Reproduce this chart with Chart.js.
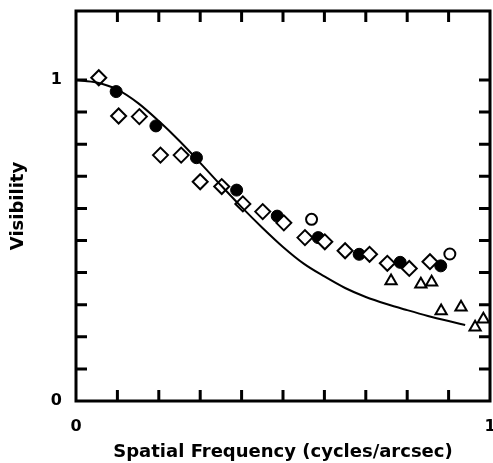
<!DOCTYPE html>
<html>
<head>
<meta charset="utf-8">
<script src="https://cdn.jsdelivr.net/npm/chart.js@4"></script>
<style>
  html, body { margin: 0; padding: 0; background: #fff; }
  #wrap { width: 493px; height: 463px; }
</style>
</head>
<body>
<div id="wrap"><canvas id="c" width="493" height="463"></canvas></div>
<script>
// ---- data ----
const diamondX = [0.055, 0.103, 0.153, 0.204, 0.254, 0.300, 0.352, 0.403, 0.451, 0.502, 0.553, 0.601, 0.650, 0.709, 0.752, 0.805, 0.855];
const diamondY = [1.007, 0.888, 0.886, 0.766, 0.766, 0.683, 0.668, 0.614, 0.590, 0.555, 0.509, 0.496, 0.468, 0.457, 0.429, 0.413, 0.434];

const filledX = [0.097, 0.193, 0.291, 0.388, 0.486, 0.585, 0.684, 0.783, 0.881];
const filledY = [0.964, 0.857, 0.758, 0.657, 0.576, 0.509, 0.457, 0.432, 0.421];

const openCircleX = [0.569, 0.903];
const openCircleY = [0.566, 0.458];

const triangleX = [0.761, 0.833, 0.859, 0.882, 0.930, 0.964, 0.984];
const triangleY = [0.374, 0.364, 0.370, 0.280, 0.292, 0.230, 0.255];

const curveX = [0, 0.05, 0.10, 0.15, 0.20, 0.25, 0.30, 0.35, 0.40, 0.45, 0.50, 0.55, 0.60, 0.65, 0.70, 0.75, 0.80, 0.85, 0.90, 0.94];
const curveY = [1.000, 0.992, 0.970, 0.928, 0.872, 0.810, 0.742, 0.672, 0.604, 0.540, 0.480, 0.428, 0.388, 0.352, 0.324, 0.302, 0.283, 0.265, 0.249, 0.237];

const xTickValues = [0, 0.1, 0.2, 0.3, 0.4, 0.5, 0.6, 0.7, 0.8, 0.9, 1.0];
const yTickValues = [0, 0.1, 0.2, 0.3, 0.4, 0.5, 0.6, 0.7, 0.8, 0.9, 1.0];
const tickLabels = { 0: '0', 1: '1' };

const xTitle = 'Spatial Frequency (cycles/arcsec)';
const yTitle = 'Visibility';

// ---- helpers ----
const pts = (xs, ys) => xs.map((x, i) => ({ x: x, y: ys[i] }));
const FONT = '"DejaVu Sans", sans-serif';
const noPad = s => { s.paddingLeft = 0; s.paddingRight = 0; s.paddingTop = 0; s.paddingBottom = 0; };

// plugin: frame + inward tick marks on all four sides
const framePlugin = {
  id: 'frame',
  afterDatasetsDraw(chart) {
    const { ctx, chartArea: a, scales } = chart;
    const xs = scales.x, ys = scales.y;
    const L = 11;
    ctx.save();
    ctx.strokeStyle = '#000';
    ctx.lineWidth = 3;
    ctx.lineCap = 'butt';
    ctx.beginPath();
    xTickValues.forEach(v => {
      if (v <= 0 || v >= 1) return;
      const px = xs.getPixelForValue(v);
      ctx.moveTo(px, a.bottom); ctx.lineTo(px, a.bottom - L);
      ctx.moveTo(px, a.top); ctx.lineTo(px, a.top + L);
    });
    yTickValues.forEach(v => {
      if (v <= 0) return;
      const py = ys.getPixelForValue(v);
      ctx.moveTo(a.left, py); ctx.lineTo(a.left + L, py);
      ctx.moveTo(a.right, py); ctx.lineTo(a.right - L, py);
    });
    ctx.stroke();
    ctx.strokeRect(a.left, a.top, a.right - a.left, a.bottom - a.top);
    ctx.restore();
  }
};

new Chart(document.getElementById('c'), {
  type: 'scatter',
  data: {
    datasets: [
      {
        label: 'model',
        data: pts(curveX, curveY),
        showLine: true,
        borderColor: '#000',
        borderWidth: 2,
        pointRadius: 0,
        cubicInterpolationMode: 'monotone',
        fill: false
      },
      {
        label: 'diamonds',
        data: pts(diamondX, diamondY),
        pointStyle: 'rectRot',
        pointRadius: 7.5,
        borderWidth: 2,
        borderColor: '#000',
        backgroundColor: '#fff'
      },
      {
        label: 'filled',
        data: pts(filledX, filledY),
        pointStyle: 'circle',
        pointRadius: 6,
        borderWidth: 1,
        borderColor: '#000',
        backgroundColor: '#000'
      },
      {
        label: 'open circles',
        data: pts(openCircleX, openCircleY),
        pointStyle: 'circle',
        pointRadius: 5.5,
        borderWidth: 2,
        borderColor: '#000',
        backgroundColor: '#fff'
      },
      {
        label: 'triangles',
        data: pts(triangleX, triangleY),
        pointStyle: 'triangle',
        pointRadius: 6.5,
        borderWidth: 2,
        borderColor: '#000',
        backgroundColor: '#fff'
      }
    ]
  },
  options: {
    responsive: false,
    animation: false,
    devicePixelRatio: 1,
    layout: { autoPadding: false, padding: { top: 11, right: 3, left: 0, bottom: 0 } },
    plugins: {
      legend: { display: false },
      tooltip: { enabled: false }
    },
    scales: {
      x: {
        type: 'linear',
        min: 0,
        max: 1,
        afterBuildTicks: s => { s.ticks = xTickValues.map(v => ({ value: v })); },
        afterFit: s => { s.height = 62; noPad(s); },
        grid: { display: false, drawTicks: false },
        border: { display: false },
        ticks: {
          autoSkip: false,
          maxRotation: 0,
          padding: 16,
          color: '#000',
          font: { family: FONT, size: 16, weight: 'bold' },
          callback: v => (tickLabels[v] !== undefined ? tickLabels[v] : '')
        },
        title: {
          display: true,
          text: xTitle,
          color: '#000',
          font: { family: FONT, size: 18, weight: 'bold' },
          padding: { top: 0, bottom: 0 }
        }
      },
      y: {
        type: 'linear',
        min: 0,
        max: 1.215,
        afterBuildTicks: s => { s.ticks = yTickValues.map(v => ({ value: v })); },
        afterFit: s => { s.width = 76; noPad(s); },
        grid: { display: false, drawTicks: false },
        border: { display: false },
        ticks: {
          autoSkip: false,
          padding: 14,
          color: '#000',
          font: { family: FONT, size: 16, weight: 'bold' },
          callback: v => (tickLabels[v] !== undefined ? tickLabels[v] : '')
        },
        title: {
          display: true,
          text: yTitle,
          color: '#000',
          font: { family: FONT, size: 18, weight: 'bold' },
          padding: { top: 8, bottom: 0 }
        }
      }
    }
  },
  plugins: [framePlugin]
});
</script>
</body>
</html>
